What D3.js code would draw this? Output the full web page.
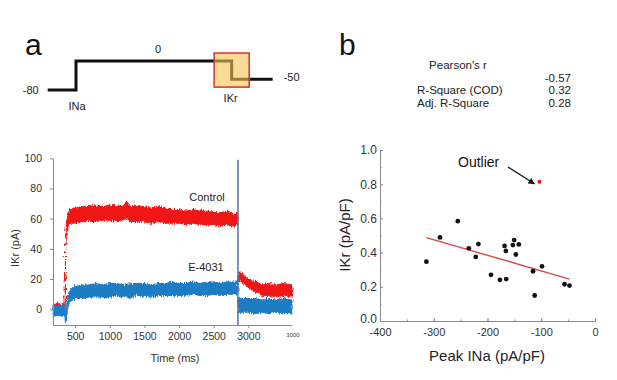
<!DOCTYPE html>
<html>
<head>
<meta charset="utf-8">
<script src="https://cdn.jsdelivr.net/npm/d3@7"></script>
<style>
  body { margin: 0; background: #fff; }
  svg { display: block; font-family: "Liberation Sans", Arial, sans-serif; }
  .ax path, .ax line { stroke: #8a8a8a; }
  .ax text { fill: #333; font-family: "Liberation Sans", Arial, sans-serif; }
</style>
</head>
<body>
<svg id="fig" width="617" height="380"></svg>
<script>
// voltage protocol (ms, mV)
var protoTime = [0, 100, 650, 795];
var protoVolt = [-80, 0, -50];

// IKr traces, band (time ms, low / high pA)
var ctlTime = [183, 250, 300, 350, 356, 362, 372, 385, 400, 430, 470, 500, 600, 700, 800, 900, 1000, 1100, 1200, 1250, 1300, 1400, 1500, 1600, 1700, 1800, 1900, 2000, 2100, 2200, 2300, 2400, 2500, 2600, 2700, 2800, 2850];
var ctlLow  = [-1, 0, -1, 0, 0, 40, 47, 53, 55, 57, 57, 57, 58, 59, 58, 59, 59, 58, 59, 60, 58, 58, 58, 57, 58, 57, 57, 57, 56, 57, 56, 56, 56, 55, 56, 55, 56];
var ctlHigh = [3, 4, 3, 4, 5, 48, 56, 60, 64, 66, 67, 67, 68, 68, 69, 68, 69, 68, 69, 71, 68, 68, 68, 67, 68, 67, 66, 66, 65, 66, 65, 65, 64, 64, 65, 63, 63];

var ctlTailTime = [2855, 2880, 2920, 2980, 3050, 3120, 3200, 3300, 3400, 3500, 3630];
var ctlTailLow  = [18, 20, 17, 15, 13, 11, 9, 9, 8, 9, 8];
var ctlTailHigh = [22, 25, 23, 21, 19, 18, 16, 17, 16, 17, 16];

var e4031Time = [183, 250, 300, 350, 362, 368, 378, 390, 405, 425, 450, 500, 600, 700, 800, 900, 1000, 1100, 1200, 1300, 1400, 1500, 1600, 1700, 1800, 1900, 2000, 2100, 2200, 2300, 2400, 2500, 2600, 2700, 2800, 2850];
var e4031Low  = [-5, -4, -5, -4, -10.5, -10.5, -4, 0, 3, 5, 6, 7, 7, 8, 8, 8, 8, 9, 8, 8, 9, 9, 8, 9, 9, 9, 9, 9, 10, 9, 9, 10, 9, 10, 10, 10];
var e4031High = [3, 2, 3, 2, -3, -5, 3, 7, 10, 12, 14, 15, 16, 16, 17, 16, 17, 17, 16, 17, 17, 17, 16, 17, 17, 18, 17, 17, 18, 17, 18, 18, 17, 18, 18, 18];

var e4031TailTime = [2855, 2900, 3000, 3100, 3200, 3300, 3400, 3500, 3630];
var e4031TailLow  = [-2, -2, -2, -3, -2, -3, -2, -3, -3];
var e4031TailHigh = [8, 7, 7, 7, 6, 7, 6, 7, 6];

var timeTicks = [500, 1000, 1500, 2000, 2500, 3000];
var ikrTicks = [0, 20, 40, 60, 80, 100];
var stepTime = 2850;

// panel b scatter
var peakINa = [-313.7, -288.4, -255.2, -234.8, -216.9, -221.9, -193.5, -176.9, -165.2, -168.3, -165.8, -150.4, -152.8, -141.8, -147.3, -115.3, -98.6, -112.2, -56.7, -47.5];
var ikrDens = [0.347, 0.489, 0.584, 0.425, 0.450, 0.375, 0.270, 0.241, 0.245, 0.439, 0.410, 0.473, 0.444, 0.448, 0.389, 0.291, 0.320, 0.149, 0.215, 0.207];
var outlierX = [-103.5];
var outlierY = [0.814];
var fitX = [-313.7, -47.5];
var fitY = [0.488, 0.245];
var peakTicks = [-400, -300, -200, -100, 0];
var densTicks = [0, 0.2, 0.4, 0.6, 0.8, 1.0];
var statNames = ["R-Square (COD)", "Adj. R-Square"];
var statVals = ["0.32", "0.28"];
var pearsonR = "-0.57";

var svg = d3.select("#fig");
var defs = svg.append("defs");

// jagged edge for the noisy recordings
var flt = defs.append("filter").attr("id", "noisy")
    .attr("x", "-5%").attr("y", "-20%").attr("width", "110%").attr("height", "140%");
flt.append("feTurbulence").attr("type", "fractalNoise")
    .attr("baseFrequency", "0.9 0.25").attr("numOctaves", 2).attr("seed", 3).attr("result", "t");
flt.append("feDisplacementMap").attr("in", "SourceGraphic").attr("in2", "t")
    .attr("scale", 5).attr("xChannelSelector", "R").attr("yChannelSelector", "G");

// ---------- protocol ----------
var px = d3.scaleLinear().domain([0, 100]).range([47.7, 76]);
var pv = d3.scaleLinear().domain([-80, 0]).range([90, 61]);

var protoPts = [
  [protoTime[0], protoVolt[0]], [protoTime[1], protoVolt[0]],
  [protoTime[1], protoVolt[1]], [protoTime[2], protoVolt[1]],
  [protoTime[2], protoVolt[2]], [protoTime[3], protoVolt[2]]
];
svg.append("path")
    .attr("d", d3.line().x(function(d) { return px(d[0]); }).y(function(d) { return pv(d[1]); })(protoPts))
    .attr("fill", "none").attr("stroke", "#111").attr("stroke-width", 3);

svg.append("rect")
    .attr("x", px(protoTime[2] - 62)).attr("y", pv(22))
    .attr("width", px(protoTime[2] + 62) - px(protoTime[2] - 62))
    .attr("height", pv(-72) - pv(22))
    .attr("fill", "#f9c452").attr("fill-opacity", 0.6)
    .attr("stroke", "#d8302a").attr("stroke-width", 1.5);

svg.append("text").attr("x", 25).attr("y", 55).attr("font-size", 30).attr("fill", "#111").text("a");
svg.append("text").attr("x", px(protoTime[0]) - 9).attr("y", pv(protoVolt[0]) + 4).attr("text-anchor", "end").attr("font-size", 11).attr("fill", "#222").text("-80");
svg.append("text").attr("x", 158).attr("y", pv(protoVolt[1]) - 8).attr("text-anchor", "middle").attr("font-size", 11).attr("fill", "#222").text("0");
svg.append("text").attr("x", px(protoTime[3]) + 11).attr("y", pv(protoVolt[2]) + 2).attr("font-size", 11).attr("fill", "#222").text("-50");
svg.append("text").attr("x", px(protoTime[1]) + 1).attr("y", 110).attr("text-anchor", "middle").attr("font-size", 11).attr("fill", "#222").text("INa");
svg.append("text").attr("x", px(protoTime[2]) - 1).attr("y", 102).attr("text-anchor", "middle").attr("font-size", 11).attr("fill", "#222").text("IKr");

// ---------- current traces ----------
var x = d3.scaleLinear().domain([180, 3630]).range([53, 292]);
var y = d3.scaleLinear().domain([-10.5, 100]).range([325, 158.3]);

function band(t, lo, hi) {
  return d3.area()
    .x(function(d, i) { return x(t[i]); })
    .y0(function(d, i) { return y(lo[i]); })
    .y1(function(d, i) { return y(hi[i]); })(t);
}

var red = "#f01818", blue = "#1a7cc4";
var traces = svg.append("g").attr("filter", "url(#noisy)");
[[ctlTime, ctlLow, ctlHigh, red], [ctlTailTime, ctlTailLow, ctlTailHigh, red],
 [e4031Time, e4031Low, e4031High, blue], [e4031TailTime, e4031TailLow, e4031TailHigh, blue]]
  .forEach(function(s) {
    traces.append("path").attr("d", band(s[0], s[1], s[2]))
      .attr("fill", s[3]).attr("stroke", s[3]).attr("stroke-width", 1).attr("stroke-linejoin", "round");
  });

svg.append("line")
    .attr("x1", x(stepTime)).attr("x2", x(stepTime))
    .attr("y1", y(99)).attr("y2", y(-10.5))
    .attr("stroke", "#5070a8").attr("stroke-width", 1.5);

svg.append("g").attr("class", "ax")
    .attr("transform", "translate(0," + y(-10.5) + ")")
    .call(d3.axisBottom(x).tickValues(timeTicks).tickSize(3).tickSizeOuter(0).tickFormat(String))
    .call(function(g) { g.selectAll("text").attr("font-size", 10.5).attr("dy", "0.9em"); });

svg.append("g").attr("class", "ax")
    .attr("transform", "translate(" + x(180) + ",0)")
    .call(d3.axisLeft(y).tickValues(ikrTicks).tickSize(3).tickSizeOuter(0).tickFormat(String))
    .call(function(g) { g.selectAll("text").attr("font-size", 10.5).attr("dx", "-5"); });

svg.append("text").attr("x", x(3630) + 1).attr("y", 337).attr("text-anchor", "middle").attr("font-size", 6).attr("fill", "#444").text("3000");
svg.append("text").attr("x", 175).attr("y", 362).attr("text-anchor", "middle").attr("font-size", 11).attr("fill", "#333").text("Time (ms)");
svg.append("text").attr("transform", "translate(19,248) rotate(-90)").attr("text-anchor", "middle").attr("font-size", 11).attr("fill", "#333").text("IKr (pA)");
svg.append("text").attr("x", 207).attr("y", 201).attr("text-anchor", "middle").attr("font-size", 11).attr("fill", "#222").text("Control");
svg.append("text").attr("x", 206).attr("y", 271).attr("text-anchor", "middle").attr("font-size", 11).attr("fill", "#222").text("E-4031");

// ---------- panel b ----------
svg.append("text").attr("x", 339).attr("y", 55).attr("font-size", 30).attr("fill", "#111").text("b");
svg.append("text").attr("x", 458).attr("y", 69).attr("text-anchor", "middle").attr("font-size", 11.5).attr("fill", "#222").text("Pearson's r");
svg.append("text").attr("x", 571).attr("y", 81.5).attr("text-anchor", "end").attr("font-size", 11.5).attr("fill", "#222").text(pearsonR);
statNames.forEach(function(n, i) {
  svg.append("text").attr("x", 417).attr("y", 94 + i * 12.7).attr("font-size", 11.5).attr("fill", "#222").text(n);
  svg.append("text").attr("x", 571).attr("y", 94 + i * 12.7).attr("text-anchor", "end").attr("font-size", 11.5).attr("fill", "#222").text(statVals[i]);
});

var bx = d3.scaleLinear().domain([-400, 0]).range([380, 595]);
var by = d3.scaleLinear().domain([0, 1]).range([321, 150]);

svg.append("g").attr("class", "ax")
    .attr("transform", "translate(0,321)")
    .call(d3.axisBottom(bx).ticks(8).tickSize(-1.5).tickSizeOuter(0).tickFormat(""));
svg.append("g").attr("class", "ax")
    .attr("transform", "translate(0,321)")
    .call(d3.axisBottom(bx).tickValues(peakTicks).tickSize(-3).tickSizeOuter(0).tickFormat(String))
    .call(function(g) { g.selectAll("text").attr("font-size", 11).attr("y", 7).attr("dy", "0.75em"); });

svg.append("g").attr("class", "ax")
    .attr("transform", "translate(380,0)")
    .call(d3.axisLeft(by).ticks(10).tickSize(-1.5).tickSizeOuter(0).tickFormat(""));
svg.append("g").attr("class", "ax")
    .attr("transform", "translate(380,0)")
    .call(d3.axisLeft(by).tickValues(densTicks).tickSize(-3).tickSizeOuter(0).tickFormat(d3.format(".1f")))
    .call(function(g) {
      g.selectAll("text").attr("font-size", 12).attr("x", -3)
        .attr("dy", function(d) { return d === 0 ? "0.1em" : "0.32em"; });
    });

svg.selectAll(".ax path").attr("stroke", "#777");

svg.append("line")
    .attr("x1", bx(fitX[0])).attr("y1", by(fitY[0]))
    .attr("x2", bx(fitX[1])).attr("y2", by(fitY[1]))
    .attr("stroke", "#d24a4a").attr("stroke-width", 1.4);

svg.selectAll(".pt").data(peakINa).enter().append("circle")
    .attr("class", "pt")
    .attr("cx", function(d) { return bx(d); })
    .attr("cy", function(d, i) { return by(ikrDens[i]); })
    .attr("r", 2.4).attr("fill", "#111");

svg.selectAll(".out").data(outlierX).enter().append("circle")
    .attr("class", "out")
    .attr("cx", function(d) { return bx(d); })
    .attr("cy", function(d, i) { return by(outlierY[i]); })
    .attr("r", 2).attr("fill", "#e01818");

svg.append("text").attr("x", 458).attr("y", 167).attr("font-size", 14).attr("fill", "#111").text("Outlier");
defs.append("marker")
    .attr("id", "arr").attr("viewBox", "0 0 10 10").attr("refX", 9).attr("refY", 5)
    .attr("markerWidth", 5).attr("markerHeight", 5).attr("orient", "auto")
  .append("path").attr("d", "M0,0L10,5L0,10z").attr("fill", "#111");
svg.append("line")
    .attr("x1", 508).attr("y1", 167)
    .attr("x2", bx(outlierX[0]) - 5).attr("y2", by(outlierY[0]) + 2)
    .attr("stroke", "#111").attr("stroke-width", 1.3).attr("marker-end", "url(#arr)");

svg.append("text").attr("x", 487).attr("y", 361).attr("text-anchor", "middle").attr("font-size", 15).attr("fill", "#222").text("Peak INa (pA/pF)");
svg.append("text").attr("transform", "translate(350,235) rotate(-90)").attr("text-anchor", "middle").attr("font-size", 15).attr("fill", "#222").text("IKr (pA/pF)");
</script>
</body>
</html>
